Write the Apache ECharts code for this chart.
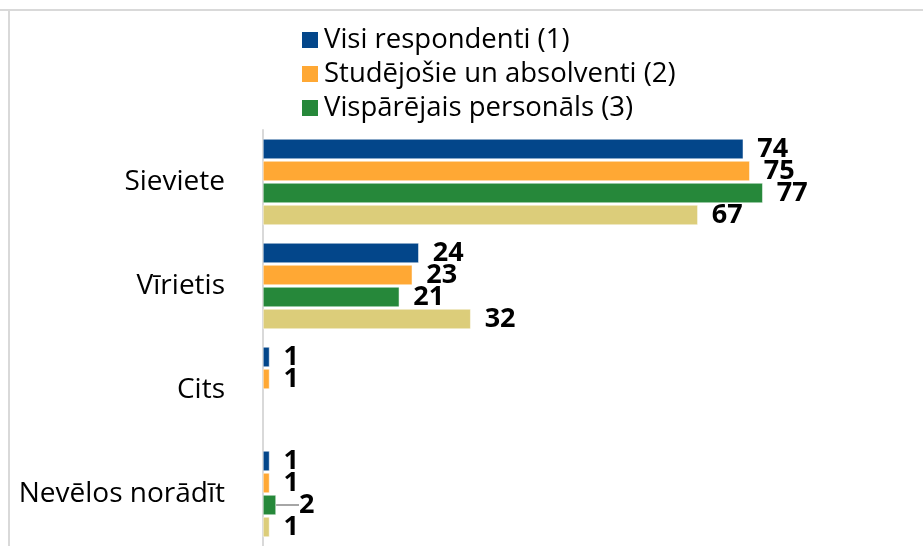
<!DOCTYPE html>
<html>
<head>
<meta charset="utf-8">
<script src="https://cdn.jsdelivr.net/npm/echarts@6/dist/echarts.min.js"></script>
<style>
  html, body { margin: 0; padding: 0; background: #fff; }
  #chart { width: 923px; height: 546px; }
</style>
</head>
<body>
<div id="chart"></div>
<script>
// dati
const categories = ['Sieviete', 'Vīrietis', 'Cits', 'Nevēlos norādīt'];
const seriesNames = ['Visi respondenti (1)', 'Studējošie un absolventi (2)', 'Vispārējais personāls (3)', 'Akadēmiskais personāls (4)'];
const visi = [74, 24, 1, 1];
const studejosie = [75, 23, 1, 1];
const personals = [77, 21, null, 2];
const akademiskais = [67, 32, null, 1];
const colors = ['#03468A', '#FFA834', '#26883A', '#DCCD7A'];

const chart = echarts.init(document.getElementById('chart'));
const font = '"Open Sans", "Noto Sans", sans-serif';

function makeSeries(name, values, color, movedIndex) {
  return {
    name: name,
    type: 'bar',
    data: values.map(function (v, i) {
      // tikai pārvietotajai etiķetei rāda līniju
      if (i === movedIndex) return { value: v, labelLine: { show: true } };
      return v;
    }),
    barWidth: 20,
    barGap: '10%',
    itemStyle: { color: color, borderColor: '#fff', borderWidth: 0.5 },
    label: {
      show: true,
      position: 'right',
      distance: 14,
      color: '#000',
      fontFamily: font,
      fontWeight: 'bold',
      fontSize: 27
    },
    labelLine: { show: false, lineStyle: { color: '#a6a6a6', width: 2 } }
  };
}

chart.setOption({
  animation: false,
  textStyle: { fontFamily: font },
  legend: {
    data: seriesNames.slice(0, 3),
    orient: 'vertical',
    left: 295,
    top: 21,
    itemWidth: 18,
    itemHeight: 18,
    itemGap: 6,
    icon: 'rect',
    textStyle: { fontSize: 27.5, color: '#000', fontFamily: font }
  },
  grid: { left: 263, top: 130, width: 649, height: 424 },
  xAxis: {
    type: 'value',
    min: 0,
    max: 100,
    show: false
  },
  yAxis: {
    type: 'category',
    data: categories,
    inverse: true,
    axisLine: { lineStyle: { color: '#d9d9d9', width: 2 } },
    axisTick: { show: false },
    axisLabel: { fontSize: 28, color: '#000', margin: 38, fontFamily: font }
  },
  labelLayout: function (p) {
    if (p.seriesIndex === 2 && p.dataIndex === 3) {
      return { dx: 9 };
    }
  },
  graphic: [
    { type: 'line', shape: { x1: 0, y1: 10, x2: 923, y2: 10 }, style: { stroke: '#d9d9d9', lineWidth: 2 } },
    { type: 'line', shape: { x1: 9, y1: 10, x2: 9, y2: 546 }, style: { stroke: '#d9d9d9', lineWidth: 2 } }
  ],
  series: [
    makeSeries(seriesNames[0], visi, colors[0], -1),
    makeSeries(seriesNames[1], studejosie, colors[1], -1),
    makeSeries(seriesNames[2], personals, colors[2], 3),
    makeSeries(seriesNames[3], akademiskais, colors[3], -1)
  ]
});
</script>
</body>
</html>
